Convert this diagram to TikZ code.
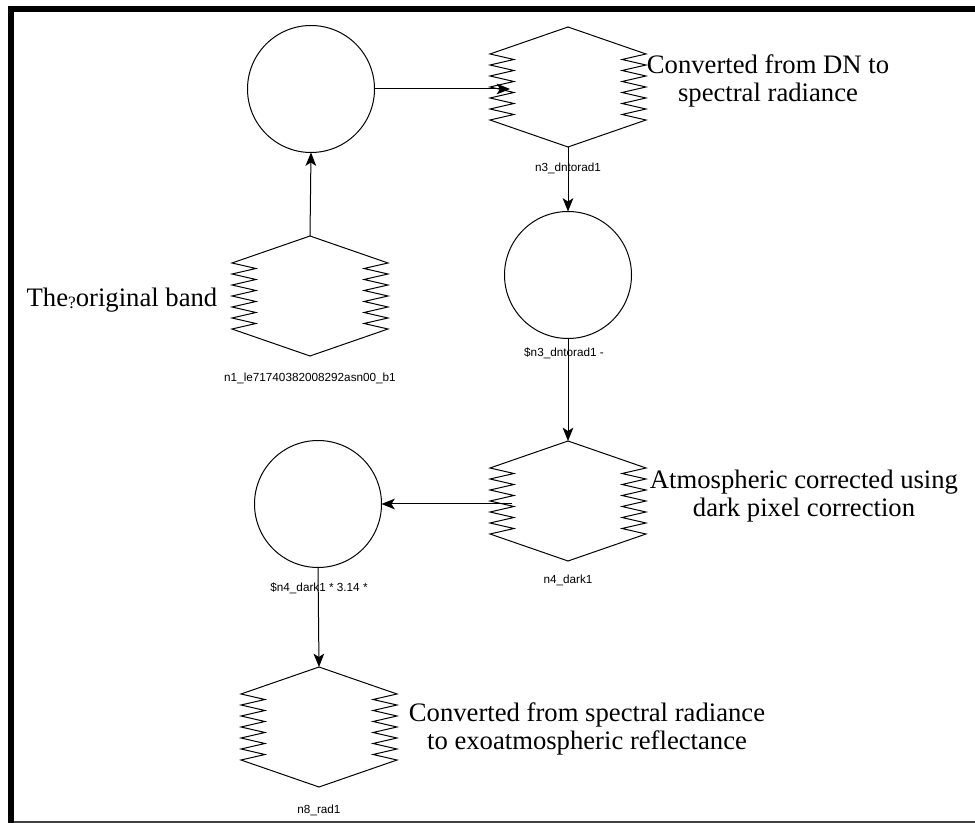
\documentclass[tikz,border=0pt]{standalone}
\usepackage{fontspec}
\setmainfont{Liberation Serif}
\newfontfamily\labelfont{Liberation Sans}
\usetikzlibrary{arrows.meta,calc}

% zig-zag sided hexagon (raster layer symbol), centred on the pic origin
\tikzset{
  zighex/.pic={
    \draw[line width=0.75pt, line join=miter]
      (0,-60) -- (78,-33)
      \foreach \k in {1,...,6} { -- (54,{-33+(\k-0.5)*11}) -- (78,{-33+\k*11}) }
      -- (0,60) -- (-78,33)
      \foreach \k in {1,...,6} { -- (-54,{33-(\k-0.5)*11}) -- (-78,{33-\k*11}) }
      -- cycle;
  }
}

\begin{document}
\begin{tikzpicture}[x=0.75pt,y=-0.75pt,
  hexbox/.style={rectangle, minimum width=117pt, minimum height=90pt, inner sep=0pt, outer sep=0pt},
  opcircle/.style={circle, draw, line width=0.75pt, minimum size=95.25pt, inner sep=0pt, outer sep=0pt},
  wire/.style={line width=0.75pt, -{Stealth[length=10pt,width=8pt,inset=2.5pt]}},
  tag/.style={font=\labelfont\fontsize{8.8pt}{9.5pt}\selectfont, inner sep=0pt},
  note/.style={font=\fontsize{20pt}{21pt}\selectfont, align=center, inner sep=0pt}
]
% page and frame
\useasboundingbox (0,0) rectangle (975,823);
\fill[white] (0,0) rectangle (975,823);
\fill[black] (8,6) rectangle (975,12);
\fill[black] (8,6) rectangle (14,823);
\fill[black!75] (14,821) rectangle (975,823);

% raster layers
\node[hexbox] (h1) at (310,296) {};
\node[hexbox] (h2) at (568,87) {};
\node[hexbox] (h3) at (568,501) {};
\node[hexbox] (h4) at (319,727) {};
\foreach \h in {h1,h2,h3,h4} { \pic at (\h.center) {zighex}; }

% function circles
\node[opcircle] (c1) at (311,89) {};
\node[opcircle] (c2) at (568,275) {};
\node[opcircle] (c3) at (318,504) {};

% entry points on the zig-zag sides
\coordinate (h2in) at ($(h2.west)+(20,2)$);
\coordinate (h3out) at ($(h3.west)+(22,3)$);

% layer and function labels
\node[tag] (l1) at (310,378) {n1\_le71740382008292asn00\_b1};
\node[tag] (l2) at (568,168) {n3\_dntorad1};
\node[tag] (l3) at (564,353) {\$n3\_dntorad1 -};
\node[tag] (l4) at (568,580) {n4\_dark1};
\node[tag] (l5) at (319,588) {\$n4\_dark1 * 3.14 *};
\node[tag] (l6) at (319,810) {n8\_rad1};

% annotations
\node[note] (t1) at (768,81) {Converted from DN to\\spectral radiance};
\node[note] (t2) at (122,300) {The\raisebox{-0.2ex}{\fontsize{13pt}{13pt}\selectfont ?}original band};
\node[note] (t3) at (804,496) {Atmospheric corrected using\\dark pixel correction};
\node[note] (t4) at (587,729) {Converted from spectral radiance\\to exoatmospheric reflectance};

% data flow
\draw[wire] (h1.north) -- (c1.south);
\draw[wire] (c1.east) -- (h2in);
\draw[wire] (h2.south) -- (c2.north);
\draw[wire] (c2.south) -- (h3.north);
\draw[wire] (h3out) -- (c3.east);
\draw[wire] (c3.south) -- (h4.north);
\end{tikzpicture}
\end{document}
